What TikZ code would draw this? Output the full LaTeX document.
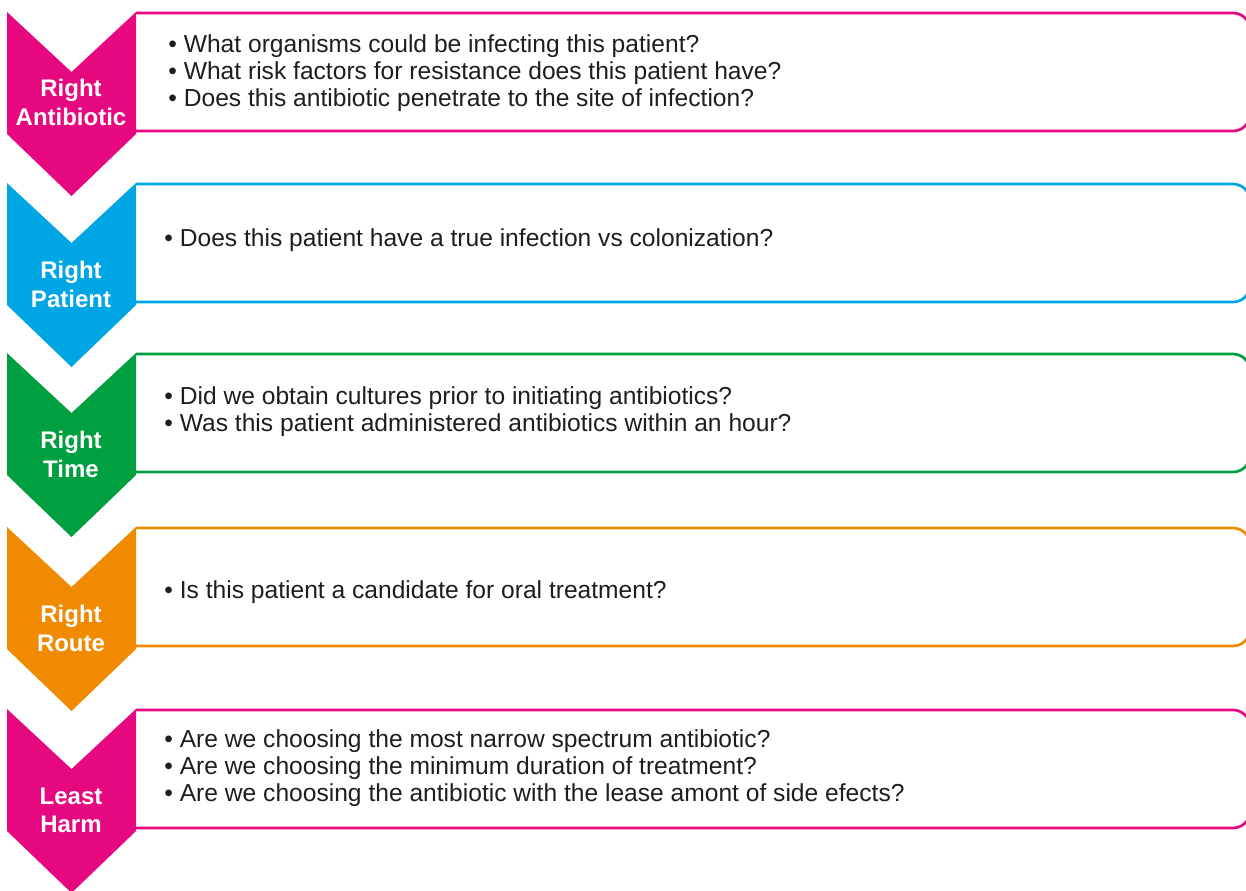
\documentclass[tikz,border=0pt]{standalone}
\usepackage{fontspec}
\setmainfont{Liberation Sans}

\definecolor{rightpink}{HTML}{E6087E}
\definecolor{rightblue}{HTML}{00A6E3}
\definecolor{rightgreen}{HTML}{009F40}
\definecolor{rightorange}{HTML}{F08A00}
\definecolor{qtext}{HTML}{1E1E1E}

\tikzset{
  qbox/.style={draw=#1, line width=1.35pt, rounded corners=8.5pt},
  steplabel/.style={text=white, align=center, inner sep=0pt,
    font=\bfseries\fontsize{12}{14.3}\selectfont},
  questions/.style={anchor=west, align=left, inner sep=0pt, text=qtext,
    font=\fontsize{12.3}{13.5}\selectfont},
}

\begin{document}
\begin{tikzpicture}[x=0.5pt, y=-0.5pt]
  \useasboundingbox (0,0) rectangle (1246,890);

  % top / colour / label / label offset / questions / text offset / text x
  \foreach \t/\col/\lab/\ly/\txt/\ty/\tx [count=\i] in {
    12/rightpink/{Right\\Antibiotic}/90.5/{• What organisms could be infecting this patient?\\• What risk factors for resistance does this patient have?\\• Does this antibiotic penetrate to the site of infection?}/61.5/168,
    183/rightblue/{Right\\Patient}/101.5/{• Does this patient have a true infection vs colonization?}/57.5/164,
    353/rightgreen/{Right\\Time}/101.5/{• Did we obtain cultures prior to initiating antibiotics?\\• Was this patient administered antibiotics within an hour?}/59/164,
    527/rightorange/{Right\\Route}/101.5/{• Is this patient a candidate for oral treatment?}/65.5/164,
    709/rightpink/{Least\\Harm}/101.5/{• Are we choosing the most narrow spectrum antibiotic?\\• Are we choosing the minimum duration of treatment?\\• Are we choosing the antibiotic with the lease amont of side efects?}/59/164%
  }{
    % chevron
    \fill[\col] (7,\t) -- (71.5,\t+60) -- (136,\t) -- (136,\t+122)
      -- (71.5,\t+184) -- (7,\t+122) -- cycle;
    % box, open on the chevron side
    \draw[qbox=\col] (136,\t+119) -- (1250,\t+119) -- (1250,\t+1) -- (136,\t+1);
    \node[steplabel] (label\i) at (71,\t+\ly) {\lab};
    \node[questions] (questions\i) at (\tx,\t+\ty) {\txt};
  }
\end{tikzpicture}
\end{document}
